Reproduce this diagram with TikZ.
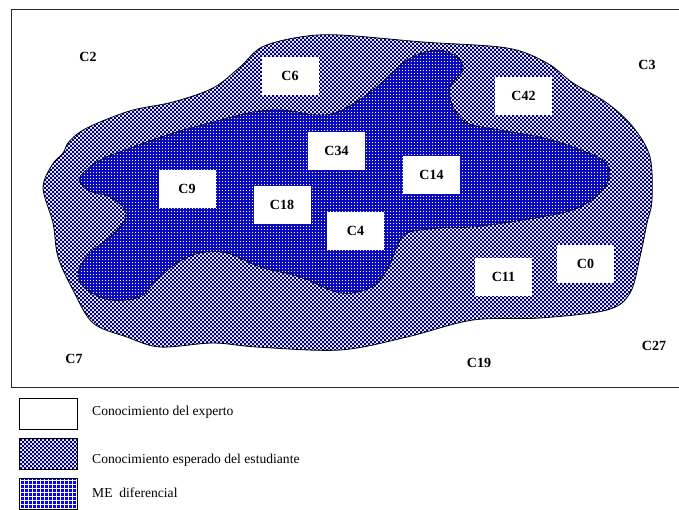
\documentclass[tikz,border=0pt]{standalone}
\usepackage{fontspec}
\setmainfont{Liberation Serif}
\usetikzlibrary{patterns}
\definecolor{navyhatch}{RGB}{0,0,128}
\definecolor{innerblue}{RGB}{10,10,190}
\definecolor{legendblue}{RGB}{0,0,255}
\definecolor{framegray}{RGB}{40,40,40}
% fine two-pixel checkerboard
\pgfdeclarepatternformonly{finechecker}{\pgfqpoint{-0.1pt}{-0.1pt}}{\pgfqpoint{4.1pt}{4.1pt}}{\pgfqpoint{4pt}{4pt}}{%
  \pgfpathrectangle{\pgfqpoint{0pt}{0pt}}{\pgfqpoint{2pt}{2pt}}%
  \pgfpathrectangle{\pgfqpoint{2pt}{2pt}}{\pgfqpoint{2pt}{2pt}}%
  \pgfusepath{fill}}
% small square dots on a 3pt grid
\pgfdeclarepatternformonly{finedots}{\pgfqpoint{-0.1pt}{-0.1pt}}{\pgfqpoint{3.1pt}{3.1pt}}{\pgfqpoint{3pt}{3pt}}{%
  \pgfpathrectangle{\pgfqpoint{0pt}{0pt}}{\pgfqpoint{1.3pt}{1.3pt}}%
  \pgfusepath{fill}}
\tikzset{
  outerzone/.style={preaction={fill=white}, pattern=finechecker, pattern color=navyhatch, draw=black, line width=0.8pt},
  innerzone/.style={preaction={fill=innerblue}, pattern=finedots, pattern color=white, draw=black, line width=0.6pt},
  concept/.style={fill=white, draw=white, line width=1pt, minimum width=56pt, minimum height=37pt, inner sep=0pt, font=\fontsize{14}{16}\selectfont\bfseries},
  freelabel/.style={inner sep=0pt, font=\fontsize{14}{16}\selectfont\bfseries},
  legendbox/.style={line width=0.6pt, minimum width=58pt, minimum height=31pt, inner sep=0pt, anchor=north west},
  legendtext/.style={anchor=west, inner sep=0pt, font=\fontsize{13.6}{16}\selectfont},
}
\begin{document}
\begin{tikzpicture}[x=1pt, y=-1pt]
\useasboundingbox (0,0) rectangle (679,509);
\clip (0,0) rectangle (679,509);
\fill[white] (0,0) rectangle (679,509);
% frame
\draw[framegray, line width=1pt] (11,9) rectangle (700,387);
% expected knowledge of the student
\path[outerzone] plot[smooth cycle, tension=0.55] coordinates {
 (63,153) (68,143) (80,132) (100,122) (133,110) (173,102) (213,88) (240,67)
 (262,47) (300,37) (340,35) (423,42) (507,48) (547,63) (573,83) (607,103)
 (633,127) (650,157) (652,200) (647,223) (640,257) (630,293) (607,310)
 (540,318) (473,320) (407,337) (340,350) (257,347) (213,343) (160,347)
 (127,337) (93,323) (73,290) (58,257) (53,223) (43,188) (52,165)};
% differential zone
\path[innerzone] plot[smooth cycle, tension=0.55] coordinates {
 (80,177) (100,160) (133,147) (173,133) (213,122) (253,112) (283,110)
 (317,115) (340,111) (373,90) (407,60) (437,50) (457,57) (463,70) (450,87)
 (453,107) (467,123) (500,130) (540,137) (573,147) (603,160) (610,175)
 (600,193) (573,210) (523,220) (473,227) (440,228) (407,233) (397,247)
 (387,270) (370,288) (340,293) (300,277) (260,267) (227,253) (200,253)
 (177,263) (157,280) (140,297) (110,300) (87,290) (78,277) (82,263)
 (93,250) (110,237) (123,223) (125,210) (110,197) (87,190)};
% concepts
\node[concept] (c6)  at (290,76)  {C6};
\node[concept] (c42) at (523.5,96) {C42};
\node[concept] (c34) at (336.5,150.5) {C34};
\node[concept] (c14) at (431.5,175) {C14};
\node[concept] (c9)  at (187,188.5) {C9};
\node[concept] (c18) at (282,205) {C18};
\node[concept] (c4)  at (355.5,231) {C4};
\node[concept] (c11) at (503.5,277) {C11};
\node[concept] (c0)  at (585.5,264) {C0};
\node[freelabel] (c2)  at (88,57)  {C2};
\node[freelabel] (c3)  at (647,65)  {C3};
\node[freelabel] (c7)  at (74,359)  {C7};
\node[freelabel] (c19) at (479,363) {C19};
\node[freelabel] (c27) at (654,346) {C27};
% legend
\node[legendbox, fill=white] (l1) at (19,398) {};
\node[legendbox, fill=white] (l2) at (19,438) {};
\node[legendbox] (l3) at (19,478) {};
\path[pattern=finechecker, pattern color=navyhatch] (l2.north west) rectangle (l2.south east);
\fill[legendblue] (l3.north west) rectangle (l3.south east);
\begin{scope}
  \clip (l3.north west) rectangle (l3.south east);
  \draw[white, line width=1pt] (l3.north west) grid[step=4pt] (l3.south east);
\end{scope}
\foreach \b in {l1,l2,l3}
  \draw[black, line width=0.6pt] (\b.north west) rectangle (\b.south east);
\node[legendtext] (t1) at (92,412) {Conocimiento del experto};
\node[legendtext] (t2) at (92,460) {Conocimiento esperado del estudiante};
\node[legendtext] (t3) at (92,493) {ME\ \ diferencial};
\end{tikzpicture}
\end{document}
